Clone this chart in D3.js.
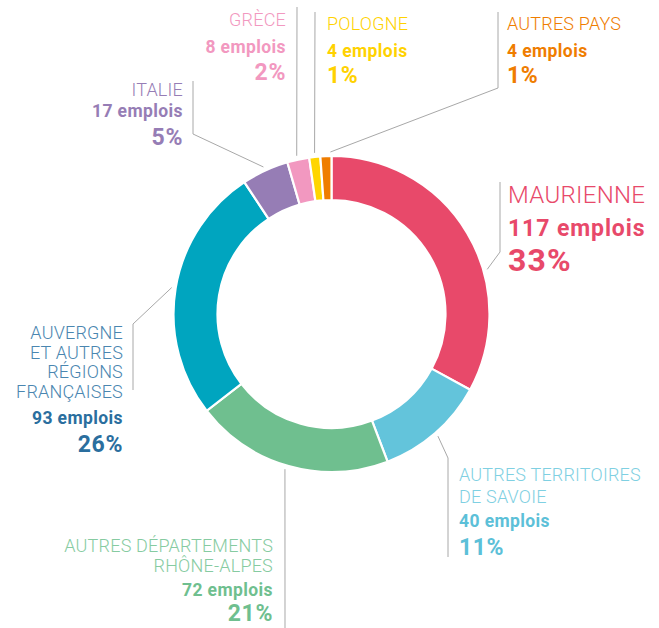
<!DOCTYPE html>
<html>
<head>
<meta charset="utf-8">
<script src="https://cdn.jsdelivr.net/npm/d3@7"></script>
<style>
  html, body { margin: 0; padding: 0; background: #fff; }
  svg text { font-family: Roboto, "Noto Sans", sans-serif; }
</style>
</head>
<body>
<div id="chart"></div>
<script>
// data
var categories = ['MAURIENNE', 'AUTRES TERRITOIRES DE SAVOIE', 'AUTRES DÉPARTEMENTS RHÔNE-ALPES',
    'AUVERGNE ET AUTRES RÉGIONS FRANÇAISES', 'ITALIE', 'GRÈCE', 'POLOGNE', 'AUTRES PAYS'];
var nameLines = [['MAURIENNE'], ['AUTRES TERRITOIRES', 'DE SAVOIE'], ['AUTRES DÉPARTEMENTS', 'RHÔNE-ALPES'],
    ['AUVERGNE', 'ET AUTRES', 'RÉGIONS', 'FRANÇAISES'], ['ITALIE'], ['GRÈCE'], ['POLOGNE'], ['AUTRES PAYS']];
var emplois = [117, 40, 72, 93, 17, 8, 4, 4];
var percents = [33, 11, 21, 26, 5, 2, 1, 1];

var colors = ['#e8496a', '#63c4db', '#6fbf8f', '#00a5bf', '#967db5', '#f298c0', '#ffd500', '#ef7d00'];
var nameColors = ['#e8496a', '#7fd0e2', '#86cba1', '#4a86b0', '#967db5', '#f298c0', '#ffd200', '#ef7d00'];
var valueColors = ['#e8496a', '#5cc0d8', '#6fbf8f', '#2a6e9e', '#967db5', '#f298c0', '#ffd200', '#ef7d00'];

// label layout (position of text blocks and leader lines)
var layout = [
    {x: 508, anchor: 'start', big: true, names: [203], emp: 236, pct: 271, angle: 74, pts: [[500, 252], [500, 182]]},
    {x: 459, anchor: 'start', names: [481, 503], emp: 527, pct: 555, angle: null, pts: [[448, 458], [448, 557]]},
    {x: 273, anchor: 'end', names: [552, 572], emp: 596, pct: 621, angle: 196.7, pts: [[285, 628]]},
    {x: 123, anchor: 'end', names: [339, 358.5, 378, 398], emp: 424, pct: 452, angle: null, pts: [[133, 324], [133, 390]]},
    {x: 183, anchor: 'end', names: [96], emp: 117, pct: 145, angle: null, pts: [[193, 134], [193, 81]]},
    {x: 286, anchor: 'end', names: [26], emp: 53, pct: 80, angle: 347.6, pts: [[297, 7]]},
    {x: 327, anchor: 'start', names: [30], emp: 57, pct: 83, angle: 354, pts: [[315, 12]]},
    {x: 507, anchor: 'start', names: [30], emp: 57, pct: 83, angle: 359.6, pts: [[498, 88], [498, 12]]}
];

var width = 659, height = 628;
var cx = 331.5, cy = 314, outerR = 158, innerR = 114;

var svg = d3.select('#chart').append('svg')
    .attr('width', width).attr('height', height);

var g = svg.append('g')
    .attr('transform', 'translate(' + cx + ',' + cy + ')');

var data = categories.map(function(c, i) { return {name: c, value: emplois[i], i: i}; });

var pie = d3.pie()
    .value(function(d) { return d.value; })
    .sort(null);

var arc = d3.arc()
    .innerRadius(innerR)
    .outerRadius(outerR);

var arcs = pie(data);

// leader lines
var line = d3.line();
arcs.forEach(function(a, i) {
    var L = layout[i];
    var ang = (L.angle != null ? L.angle : (a.startAngle + a.endAngle) / 2 * 180 / Math.PI) * Math.PI / 180;
    var r = outerR + 4;
    var start = [cx + r * Math.sin(ang), cy - r * Math.cos(ang)];
    svg.append('path')
        .attr('d', line([start].concat(L.pts)))
        .attr('fill', 'none')
        .attr('stroke', '#a8a8a8')
        .attr('stroke-width', 1);
});

// slices
g.selectAll('path.slice')
    .data(arcs)
    .enter().append('path')
    .attr('class', 'slice')
    .attr('d', arc)
    .attr('fill', function(d) { return colors[d.data.i]; })
    .attr('stroke', '#fff')
    .attr('stroke-width', 2.2);

// labels
arcs.forEach(function(a, i) {
    var L = layout[i];
    var lbl = svg.append('g').attr('class', 'label');
    nameLines[i].forEach(function(t, k) {
        lbl.append('text')
            .attr('x', L.x).attr('y', L.names[k])
            .attr('text-anchor', L.anchor)
            .attr('font-size', L.big ? 24 : 18)
            .attr('letter-spacing', L.big ? 0.3 : 0.2)
            .attr('font-weight', 300)
            .attr('fill', nameColors[i])
            .text(t);
    });
    lbl.append('text')
        .attr('x', L.x).attr('y', L.emp)
        .attr('text-anchor', L.anchor)
        .attr('font-size', L.big ? 23 : 17.5)
        .attr('letter-spacing', L.big ? 0.9 : 0.4)
        .attr('font-weight', 700)
        .attr('fill', valueColors[i])
        .text(emplois[i] + ' emplois');
    lbl.append('text')
        .attr('x', L.x).attr('y', L.pct)
        .attr('text-anchor', L.anchor)
        .attr('font-size', L.big ? 32 : 23)
        .attr('letter-spacing', L.big ? 1.2 : 0.6)
        .attr('font-weight', 700)
        .attr('fill', valueColors[i])
        .text(percents[i] + '%');
});
</script>
</body>
</html>
